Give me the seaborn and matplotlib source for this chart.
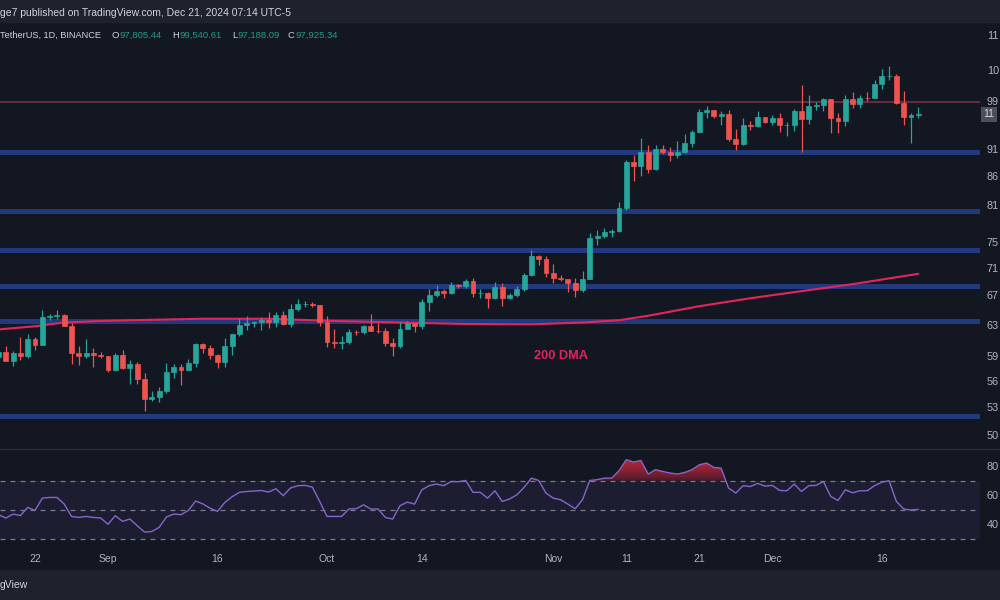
import numpy as np
import pandas as pd
import matplotlib
matplotlib.use("Agg")
import matplotlib.pyplot as plt
import matplotlib.dates as mdates
import matplotlib.transforms as mtrans
from matplotlib.patches import Rectangle
from matplotlib.ticker import NullLocator
import seaborn as sns

# ---------------- data ----------------
dates = pd.date_range("2024-08-17", "2024-12-21", freq="D")

opens = [58874, 59491, 58427, 59438, 59013, 61157, 60381, 64094, 64178, 64260, 62834, 59415, 59034, 59359, 59123,
         58973, 57301, 59132, 57487, 57970, 56181, 53962, 54160, 54869, 57042, 57635, 57338, 58132, 60498, 59993,
         59132, 58213, 60309, 61759, 62947, 63201, 63348, 63578, 63339, 64262, 63152, 65173, 65769, 65858, 65602,
         63327, 60805, 60649, 60752, 62086, 62058, 62819, 62224, 62131, 60583, 60275, 62446, 63193, 62851, 66046,
         67041, 67612, 67399, 68419, 68362, 69001, 67367, 67378, 66654, 68161, 66641, 67014, 67930, 69908, 72720,
         72339,
         70215, 69482, 69289, 68741, 67811, 69359, 75640, 75904, 76538, 76649, 80475, 88701, 87955, 90585, 87250,
         91032, 90586, 89855, 90464, 92310, 94286, 98317, 98892, 97672, 97900, 93010, 91965, 95863, 95643, 97461,
         96408, 97185, 95840, 95865, 98588, 96945, 99740, 99831, 101109, 97276, 96593, 101125, 100004, 101424,
         101420, 104463, 106058, 106133, 100204, 97462, 97805]
highs = [59700, 60284, 59617, 61400, 61820, 61400, 64955, 64500, 65000, 64481, 63212, 60234, 61166, 59944, 59462,
         59054, 59425, 59809, 58519, 58327, 56995, 54850, 55318, 58088, 58044, 57981, 58588, 60625, 60610, 60395,
         59210, 61320, 61786, 63850, 64133, 63559, 64000, 64745, 64688, 64817, 65839, 66498, 66260, 66076, 65618,
         64130, 62390, 61477, 62484, 62370, 62975, 64478, 63200, 62543, 61320, 63417, 63480, 63285, 66500, 67950,
         68425, 67939, 68969, 68668, 69400, 69500, 67836, 67470, 68850, 68771, 67310, 68332, 70270, 73620, 72962,
         72700,
         71632, 69914, 69390, 69432, 70522, 76400, 76850, 77199, 76932, 81500, 89000, 89956, 93265, 91765, 91850,
         91779, 91449, 92594, 93905, 94831, 98988, 99588, 98908, 98564, 98871, 94974, 97208, 96650, 98693, 97463,
         97836, 98130, 96305, 99000, 104088, 101898, 100439, 101350, 101215, 98270, 101888, 102540, 101895, 102650,
         105250, 107793, 108353, 106524, 102800, 98171, 99540]
lows = [58785, 58408, 57787, 58548, 58783, 59724, 60345, 63578, 63773, 62800, 58034, 57860, 58760, 57701, 58744,
        57118, 57128, 57415, 55606, 55643, 52550, 53745, 53629, 54591, 56386, 55546, 57324, 57632, 59400, 58692,
        57493, 57610, 59174, 61555, 62350, 62758, 62357, 62538, 62700, 62947, 62670, 64819, 65422, 65432, 62856,
        60164, 60000, 59828, 60460, 61689, 61798, 62128, 61860, 60300, 58946, 60046, 62400, 62050, 62425, 64800,
        66750, 66666, 67177, 68020, 68100, 66835, 66571, 65260, 66559, 65520, 66506, 66803, 67618, 69730, 71436,
        69686,
        68820, 69000, 67478, 66803, 67458, 69298, 74416, 75559, 75773, 76492, 80216, 85072, 86127, 86668, 87073,
        90056, 88722, 89376, 90357, 91500, 94101, 97122, 97136, 95734, 92600, 90791, 91792, 94827, 95407, 96150,
        95693, 94395, 93578, 94660, 90500, 95981, 98844, 98657, 94150, 94256, 95658, 99311, 99206, 100609,
        101237, 103333, 105321, 100000, 95700, 92175, 97188]
closes = [59491, 58427, 59438, 59013, 61157, 60381, 64094, 64178, 64260, 62834, 59415, 59034, 59359, 59123, 58973,
          57301, 59132, 57487, 57970, 56181, 53962, 54160, 54869, 57042, 57635, 57338, 58132, 60498, 59993, 59132,
          58213, 60309, 61759, 62947, 63201, 63348, 63578, 63339, 64262, 63152, 65173, 65769, 65858, 65602, 63327,
          60805, 60649, 60752, 62086, 62058, 62819, 62224, 62131, 60583, 60275, 62446, 63193, 62851, 66046, 67041,
          67612, 67399, 68419, 68362, 69001, 67367, 67378, 66654, 68161, 66641, 67014, 67930, 69908, 72720, 72339,
          70215,
          69482, 69289, 68741, 67811, 69359, 75640, 75904, 76538, 76649, 80475, 88701, 87955, 90585, 87250, 91032,
          90586, 89855, 90464, 92310, 94286, 98317, 98892, 97672, 97900, 93010, 91965, 95863, 95643, 97461, 96408,
          97185, 95840, 95865, 98588, 96945, 99740, 99831, 101109, 97276, 96593, 101125, 100004, 101424, 101420,
          104463, 106058, 106133, 100204, 97462, 97756, 97925]

rsi = [46.6, 44.3, 47.0, 46.0, 51.6, 49.5, 58.0, 58.5, 58.5, 54.0, 45.4, 44.7, 45.4, 44.7, 44.3,
       40.0, 45.9, 42.0, 43.6, 39.0, 34.6, 35.0, 37.8, 45.0, 47.0, 46.6, 49.5, 56.0, 54.0, 51.0,
       48.9, 55.0, 59.0, 62.0, 62.6, 62.9, 63.3, 62.2, 64.5, 59.7, 65.0, 66.6, 66.8, 65.6, 55.7,
       45.4, 45.4, 45.4, 50.5, 50.7, 53.4, 50.5, 50.5, 44.7, 43.6, 52.8, 55.3, 53.9, 63.8, 66.6,
       67.7, 66.6, 69.5, 69.3, 70.2, 62.0, 62.0, 58.0, 63.1, 55.7, 57.4, 60.3, 65.4, 71.8, 70.2,
       61.5,
       58.0, 56.9, 53.9, 50.7, 56.9, 70.2, 70.7, 71.8, 71.8, 76.9, 84.5, 82.9, 84.0, 74.6, 77.6,
       76.4, 75.3, 74.6, 75.7, 77.6, 81.0, 82.2, 79.2, 78.7, 65.0, 61.5, 66.6, 66.0, 68.2, 66.3,
       66.8, 63.3, 63.1, 67.7, 62.6, 66.6, 66.8, 69.5, 59.2, 56.4, 63.8, 61.7, 63.1, 63.1,
       66.6, 69.0, 70.0, 55.7, 50.5, 49.8, 50.2]

dma_dates = pd.to_datetime(["2024-08-16", "2024-08-22", "2024-08-26", "2024-08-31", "2024-09-04", "2024-09-14",
                            "2024-09-23", "2024-10-02", "2024-10-11", "2024-10-20", "2024-10-29", "2024-11-05",
                            "2024-11-10", "2024-11-14", "2024-11-21", "2024-11-28", "2024-12-05", "2024-12-12",
                            "2024-12-21"])
dma_values = [62300, 62800, 63300, 63500, 63600, 63800, 63800, 63500, 63300, 63100, 63050, 63300,
              63600, 64200, 65500, 66600, 67600, 68600, 70100]

blue_levels = [52000, 63500, 68400, 73700, 80000, 90500]
red_level = 100600

price_ticks = [50000, 53000, 56000, 59000, 63000, 67000, 71000, 75000, 81000, 86000, 91000, 100800, 107500, 115600]
price_tick_labels = ["50", "53", "56", "59", "63", "67", "71", "75", "81", "86", "91", "99", "10", "11"]
rsi_ticks = [40, 60, 80]
rsi_tick_labels = ["40", "60", "80"]
date_ticks = pd.to_datetime(["2024-08-22", "2024-09-01", "2024-09-16", "2024-10-01", "2024-10-14",
                             "2024-11-01", "2024-11-11", "2024-11-21", "2024-12-01", "2024-12-16"])
date_tick_labels = ["22", "Sep", "16", "Oct", "14", "Nov", "11", "21", "Dec", "16"]

header_text = "ge7 published on TradingView.com, Dec 21, 2024 07:14 UTC-5"
symbol_text = "TetherUS, 1D, BINANCE"
ohlc_labels = ["O", "H", "L", "C"]
ohlc_values = ["97,805.44", "99,540.61", "97,188.09", "97,925.34"]

# ---------------- style ----------------
BG = "#131722"
BAND = "#1e222d"
GREEN = "#26a69a"
RED = "#ef5350"
TXT = "#b2b5be"

sns.set_theme(style="dark", rc={"axes.facecolor": BG, "figure.facecolor": BG})
plt.rcParams["font.family"] = ["Liberation Sans", "DejaVu Sans"]

W, H = 1000, 600
fig = plt.figure(figsize=(10, 6), dpi=100)
fig.patch.set_facecolor(BG)

def fy(px):
    return 1 - px / H

ax1 = fig.add_axes([0, fy(448), 980 / W, 426 / H])
ax2 = fig.add_axes([0, fy(545), 980 / W, 95 / H])
for ax in (ax1, ax2):
    ax.set_facecolor(BG)
    for s in ax.spines.values():
        s.set_visible(False)
    ax.grid(False)

x = mdates.date2num(dates)
o = np.array(opens, float)
c = np.array(closes, float)
h = np.array(highs, float)
l = np.array(lows, float)
up = c >= o
cols = np.where(up, GREEN, RED)

# x range
x_sep1 = mdates.date2num(pd.Timestamp("2024-09-01"))
px_per_day = 7.3
xlim = (x_sep1 - 108 / px_per_day, x_sep1 + (980 - 108) / px_per_day)

# ---------- price panel ----------
ax1.set_yscale("log")
ax1.set_ylim(48656, 118845)
ax1.set_xlim(*xlim)

for lv in blue_levels:
    ax1.axhline(lv, color="#21397f", lw=3.6, zorder=1)
ax1.axhline(red_level, color="#6b2a3c", lw=1.5, zorder=1)

ax1.vlines(x, l, h, colors=cols, lw=0.9, zorder=3)
ax1.bar(x, np.abs(c - o), bottom=np.minimum(o, c), width=0.68, color=cols,
        edgecolor=cols, linewidth=0.5, zorder=4)

sns.lineplot(x=mdates.date2num(dma_dates), y=dma_values, ax=ax1, color="#e3245f",
             lw=1.5, zorder=2)
ax1.set_xlabel("")
ax1.set_ylabel("")

ax1.text(mdates.date2num(pd.Timestamp("2024-11-02")), 59000, "200 DMA", ha="center", va="center",
         color="#e0245e", fontsize=9.2, fontweight="bold", zorder=5)

ax1.set_yticks(price_ticks)
ax1.set_yticklabels(price_tick_labels)
ax1.yaxis.set_minor_locator(NullLocator())
ax1.set_xticks([])
ax1.tick_params(axis="y", which="both", left=False, right=False, labelleft=False,
                labelright=True, length=0, pad=5, labelsize=7.8, labelcolor=TXT)

# last price box
blend = mtrans.blended_transform_factory(ax1.transAxes, ax1.transData)
ax1.text(1.0035, closes[-1], "11", transform=blend, ha="left", va="center", fontsize=7.5,
         color="#d1d4dc", clip_on=False, zorder=10,
         bbox=dict(boxstyle="square,pad=0.25", fc="#4c505b", ec="none"))

# ---------- RSI panel ----------
ax2.set_xlim(*xlim)
ax2.set_ylim(25.7, 91.2)
ax2.axhspan(30, 70, color="#7e57c2", alpha=0.1, lw=0, zorder=0)
for lv in (70, 50, 30):
    ax2.axhline(lv, color="#787b86", ls=(0, (4, 4)), lw=0.9, zorder=1)

r = np.array(rsi, float)
ax2.fill_between(x, 70, r, where=r > 70, interpolate=True, color="#b3203f", alpha=0.35, lw=0, zorder=1)
for t in range(1, 16):
    ax2.fill_between(x, 70 + t, r, where=r > 70 + t, interpolate=True, color="#f23645",
                     alpha=0.07, lw=0, zorder=1)
sns.lineplot(x=x, y=r, ax=ax2, color="#8566c9", lw=1.0, zorder=3)
ax2.set_xlabel("")
ax2.set_ylabel("")

ax2.set_yticks(rsi_ticks)
ax2.set_yticklabels(rsi_tick_labels)
ax2.set_xticks(mdates.date2num(date_ticks))
ax2.set_xticklabels(date_tick_labels)
ax2.tick_params(axis="y", left=False, right=False, labelleft=False, labelright=True,
                length=0, pad=5, labelsize=7.8, labelcolor=TXT)
ax2.tick_params(axis="x", bottom=False, length=0, pad=6.5, labelsize=7.5, labelcolor=TXT)

# ---------- frame decorations ----------
fig.patches.append(Rectangle((0, fy(22)), 1, 22 / H, transform=fig.transFigure, color=BAND, zorder=1))
fig.patches.append(Rectangle((0, 0), 1, 30 / H, transform=fig.transFigure, color=BAND, zorder=1))
fig.lines.append(plt.Line2D([0, 1], [fy(449), fy(449)], transform=fig.transFigure,
                            color="#2a2e39", lw=1.0, zorder=1))

fig.text(0.0, fy(13), header_text, ha="left", va="center", fontsize=7.5, color="#d1d4dc")
fig.text(0.0, fy(35), symbol_text, ha="left", va="center", fontsize=6.6, color="#d1d4dc")
lab_x = [112, 172, 232, 288]
val_x = [119, 179, 238, 296]
for lab, lx, val, vx in zip(ohlc_labels, lab_x, ohlc_values, val_x):
    fig.text(lx / W, fy(35), lab, ha="left", va="center", fontsize=6.8, color="#d1d4dc")
    fig.text(vx / W, fy(35), val, ha="left", va="center", fontsize=6.8, color="#1f9e89")
fig.text(0.0, fy(585), "gView", ha="left", va="center", fontsize=7.5, color="#d1d4dc")

fig.savefig("out.png", dpi=100, facecolor=BG)
